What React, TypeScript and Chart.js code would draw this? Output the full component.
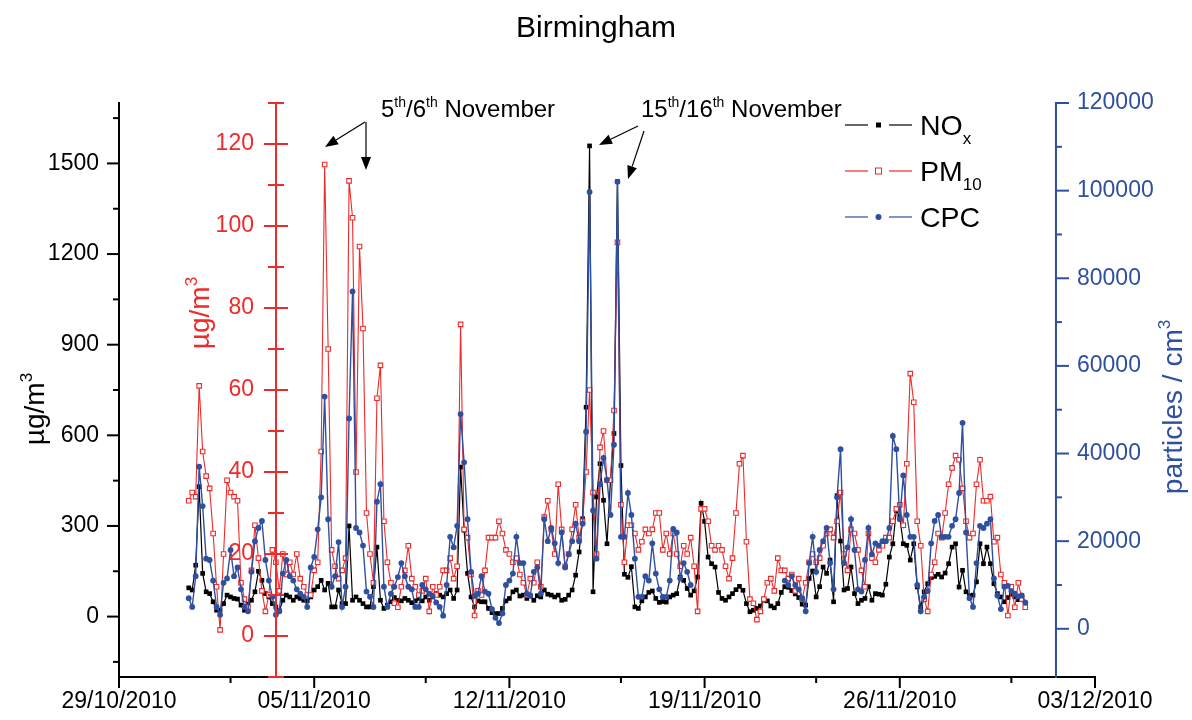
import React, { useEffect, useRef } from 'react';
import { Chart, registerables } from 'chart.js';

Chart.register(...registerables);

// ---------------- data ----------------
const TITLE = 'Birmingham';
// samples are 3-hourly, first one at 31/10/2010 12:00 (day 2.5 after 29/10/2010 00:00)
const START_DAY = 2.5;
const STEP_DAY = 0.125;

// NOx, µg/m3 (left black axis)
const NOX = [
  95, 88, 170, 430, 143, 82, 76, 49, 21, 21,
  43, 71, 65, 60, 58, 38, 21, 41, 54, 82,
  150, 120, 76, 65, 43, 32, 19, 54, 71, 65,
  54, 65, 60, 54, 52, 65, 88, 99, 120, 88,
  110,
  32, 32, 88, 43, 43, 300, 54, 65, 54, 43,
  32, 32, 99, 230, 54, 27, 38, 49, 63, 54,
  52, 60, 54, 46, 52, 60, 52, 65, 54, 65,
  76, 71, 65, 76, 88, 60, 88, 495, 286, 143,
  65, 32, 52, 49, 49, 27, 13, 10, 10, 27,
  52, 60, 82, 88, 68, 71, 60, 68, 54, 69,
  65, 88, 74, 71, 65, 71, 54, 57, 71, 88,
  137, 214, 324, 693, 1558, 82, 396, 506, 385, 241,
  450, 606, 1440, 500, 140, 130, 165, 32, 27, 52,
  65, 80, 85, 60, 47, 50, 48, 65, 71, 76,
  131, 120, 93, 71, 85, 131, 375, 315, 197, 175,
  164, 80, 60, 54, 65, 76, 89, 100, 87, 43,
  16, 21, 27, 35, 54, 52, 35, 29, 43, 80,
  99, 97, 86, 75, 63, 41, 38, 126, 151, 65,
  99, 164, 143, 187, 49, 400, 250, 88, 93, 164,
  76, 43, 54, 60, 99, 54, 76, 74, 71, 107,
  197, 241, 351, 329, 241, 236, 187, 241, 98, 32,
  82, 109, 129, 133, 140, 131, 144, 175, 230, 241,
  98, 153, 82, 69, 71, 115, 241, 175, 230, 175,
  109, 76, 65, 49, 63, 74, 65, 56, 56, 43,
];

// PM10, µg/m3 (red axis)
const PM10 = [
  33, 35, 34, 61, 45, 39, 36, 25, 12, 1.5,
  20, 38, 35, 34, 33, 13, 9, 7, 16, 27,
  19, 11, 6, 10, 21, 18, 11, 20, 15, 18,
  15, 20, 14, 12, 10, 10, 16, 18, 45, 115,
  70,
  21, 17, 14, 16, 19, 111, 102, 40, 95, 75,
  30, 20, 13, 58, 66, 28, 18, 13, 8, 7,
  12, 16, 22, 14, 12, 10, 11, 14, 6, 12,
  10, 12, 16, 16, 19, 14, 17, 76, 26, 24,
  15, 5, 11, 10, 16, 24, 24, 24, 28, 25,
  21, 20, 18, 19, 15, 13, 10, 14, 13, 18,
  12, 29, 33, 26, 20, 37, 26, 17, 20, 26,
  32, 24, 28, 40, 60, 35, 20, 46, 50, 38,
  38, 55, 96, 32, 18, 27, 27, 25, 21, 23,
  26, 25, 26, 30, 30, 21, 25, 20, 25, 20,
  17, 22, 20, 24, 17, 6, 31, 31, 28, 22,
  21, 22, 21, 17, 14, 19, 30, 42, 44, 23,
  9, 8, 4, 6, 9, 13, 14, 11, 19, 16,
  16, 14, 15, 11, 14, 9, 13, 18, 20, 18,
  19, 22, 25, 26, 24, 28, 35, 20, 16, 26,
  25, 21, 16, 12, 25, 19, 18, 21, 22, 24,
  24, 28, 31, 32, 27, 42, 64, 57, 28, 22,
  9, 6, 15, 18, 25, 24, 30, 37, 41, 44,
  43, 36, 28, 24, 25, 37, 43, 33, 33, 34,
  23, 24, 15, 13, 5, 12, 7, 13, 9, 7,
];

// CPC, thousands of particles / cm3 (blue axis); null = no data
const CPC_THOUSANDS = [
  7, 5, 12, 37, 28, 16, 15.7, 11, 5, 3.2,
  10.5, 11.5, 18, 12, 14, 9, 5, 4, 13, 20,
  23, 24.6, 15.7, 11, 7.3, 3.2, 4, 12.6, 15.7, 12,
  11, 9, 8, 7.3, 5, 14, 16.4, 22.7, 30, 53,
  25,
  9.6, 12, 19.8, 5, 9.6, 48, 77, 23, 22, 19,
  8.5, 7.3, 5, 29, 33, 9.6, 5, 8, 9.6, 11.8,
  15, 12, 9.6, 9, 5, 5, 10, 9, 8, 7.5,
  6, 5, 3, 10, 21, 18.6, 23.5, 49, 38, 25,
  13, 7.5, 8, 12, 8.5, 8, 4.5, 2.5, 1.3, 3.5,
  10, 11, 12.6, 21, 15, 15, 8, 7.6, 13, 14,
  8, 25, 20, 23, 19.5, 15, 22, 14, 17, 20,
  24, 20, 24, 45, 99.7, 27, 16, 33, 39, 34,
  26, 42, 102, 21, 21, 31, 26, 16, 7.3, 7.3,
  12, 11, 19.5, 12.6, 9, 7.3, 7.3, 11, 22.8, 22,
  11.5, 15, 13, 10, null, null, null, null, null, null,
  null, null, null, null, null, null, null, null, null, null,
  null, null, null, null, null, null, null, null, null, null,
  11, 10, 12, 10, 9, 7, 4, 15, 21, 13,
  18, 20, 23, 15, 9, 30, 41, 15, 18.6, 25,
  18, 9, 8.5, 15.7, 23, 17, 19.5, 19, 20, 20,
  23, 44, 41, 25, 35, 26, 21, 21, 10, 4,
  7.3, 8.6, 19.5, 24.6, 26, 21, 21, 21, 23.5, 25,
  31, 47, 22, 7, 5, 15, 23.5, 23, 24, 25,
  11.5, 7.6, 4.5, 9.6, 9.8, 8.6, 8, 7.4, 7.6, 6,
];

const X_TICK_DAYS = [0, 7, 14, 21, 28, 35];
const X_TICK_LABELS = ['29/10/2010', '05/11/2010', '12/11/2010', '19/11/2010', '26/11/2010', '03/12/2010'];
const X_MINOR_DAYS = [4, 11, 18, 25, 32];
const NOX_TICKS = [0, 300, 600, 900, 1200, 1500];
const NOX_MINOR = [-150, 150, 450, 750, 1050, 1350, 1650];
const PM_TICKS = [0, 20, 40, 60, 80, 100, 120];
const PM_MINOR = [-10, 10, 30, 50, 70, 90, 110, 130];
const CPC_TICKS = [0, 20000, 40000, 60000, 80000, 100000, 120000];
const CPC_MINOR = [10000, 30000, 50000, 70000, 90000, 110000];

// ---------------- style ----------------
const FONT = '"Liberation Sans", Arial, Helvetica, sans-serif';
const BLACK = '#000000';
const RED = '#ee2a2a';
const BLUE = '#2f4f9f';
const RED_AXIS_DAY = 5.63;
const BLUE_AXIS_DAY = 33.6;

type Part = { t: string; s?: 'sup' | 'sub' };

function seg(ctx: CanvasRenderingContext2D, x1: number, y1: number, x2: number, y2: number) {
  ctx.beginPath();
  ctx.moveTo(x1, y1);
  ctx.lineTo(x2, y2);
  ctx.stroke();
}

function drawRich(
  ctx: CanvasRenderingContext2D,
  parts: Part[],
  x: number,
  y: number,
  size: number,
  color: string,
  align: 'left' | 'center',
  rot = 0,
  subScale = 0.62
) {
  ctx.save();
  ctx.translate(x, y);
  ctx.rotate(rot);
  ctx.fillStyle = color;
  ctx.textAlign = 'left';
  ctx.textBaseline = 'alphabetic';
  const fontFor = (p: Part) => `${p.s ? Math.round(size * subScale) : size}px ${FONT}`;
  let total = 0;
  for (const p of parts) {
    ctx.font = fontFor(p);
    total += ctx.measureText(p.t).width;
  }
  let cx = align === 'center' ? -total / 2 : 0;
  const base = size * 0.36;
  for (const p of parts) {
    ctx.font = fontFor(p);
    const dy = p.s === 'sup' ? -size * 0.42 : p.s === 'sub' ? size * 0.3 : 0;
    ctx.fillText(p.t, cx, base + dy);
    cx += ctx.measureText(p.t).width;
  }
  ctx.restore();
}

function arrow(ctx: CanvasRenderingContext2D, x1: number, y1: number, x2: number, y2: number) {
  const a = Math.atan2(y2 - y1, x2 - x1);
  const L = 13;
  const W = 5;
  const bx = x2 - L * Math.cos(a);
  const by = y2 - L * Math.sin(a);
  ctx.lineWidth = 1.2;
  seg(ctx, x1, y1, bx, by);
  ctx.beginPath();
  ctx.moveTo(x2, y2);
  ctx.lineTo(bx + W * Math.sin(a), by - W * Math.cos(a));
  ctx.lineTo(bx - W * Math.sin(a), by + W * Math.cos(a));
  ctx.closePath();
  ctx.fill();
}

const decorPlugin = {
  id: 'decor',
  afterDraw(chart: any) {
    const ctx = chart.ctx as CanvasRenderingContext2D;
    const { top, bottom } = chart.chartArea;
    const sx = chart.scales.x;
    const sN = chart.scales.yN;
    const sP = chart.scales.yP;
    const sC = chart.scales.yC;
    const xL = sx.getPixelForValue(0);
    const xR = sx.getPixelForValue(35);
    const xRed = sx.getPixelForValue(RED_AXIS_DAY);
    const xBlue = sx.getPixelForValue(BLUE_AXIS_DAY);

    ctx.save();
    ctx.lineCap = 'butt';
    ctx.lineWidth = 2;

    // title
    ctx.fillStyle = BLACK;
    ctx.font = `30px ${FONT}`;
    ctx.textAlign = 'center';
    ctx.textBaseline = 'middle';
    ctx.fillText(TITLE, 596, 29);

    // x axis
    ctx.strokeStyle = BLACK;
    seg(ctx, xL - 1, bottom, xR + 1, bottom);
    X_TICK_DAYS.forEach((d) => {
      const p = sx.getPixelForValue(d);
      seg(ctx, p, bottom, p, bottom + 11);
    });
    X_MINOR_DAYS.forEach((d) => {
      const p = sx.getPixelForValue(d);
      seg(ctx, p, bottom, p, bottom + 6);
    });
    ctx.font = `23px ${FONT}`;
    ctx.textAlign = 'center';
    ctx.textBaseline = 'middle';
    X_TICK_DAYS.forEach((d, i) => ctx.fillText(X_TICK_LABELS[i], sx.getPixelForValue(d), bottom + 25));

    // left NOx axis
    seg(ctx, xL, top - 1, xL, bottom + 1);
    NOX_TICKS.forEach((v) => {
      const p = sN.getPixelForValue(v);
      seg(ctx, xL - 12, p, xL, p);
    });
    NOX_MINOR.forEach((v) => {
      const p = sN.getPixelForValue(v);
      seg(ctx, xL - 6, p, xL, p);
    });
    ctx.textAlign = 'right';
    NOX_TICKS.forEach((v) => ctx.fillText(String(v), xL - 20, sN.getPixelForValue(v)));

    // red PM10 axis
    ctx.strokeStyle = RED;
    ctx.fillStyle = RED;
    seg(ctx, xRed, top - 1, xRed, bottom + 1);
    PM_TICKS.forEach((v) => {
      const p = sP.getPixelForValue(v);
      seg(ctx, xRed - 12, p, xRed + 12, p);
    });
    PM_MINOR.forEach((v) => {
      const p = sP.getPixelForValue(v);
      seg(ctx, xRed - 8, p, xRed + 8, p);
    });
    ctx.textAlign = 'right';
    PM_TICKS.forEach((v) => ctx.fillText(String(v), xRed - 22, sP.getPixelForValue(v)));

    // blue CPC axis
    ctx.strokeStyle = BLUE;
    ctx.fillStyle = BLUE;
    seg(ctx, xBlue, top - 1, xBlue, bottom + 1);
    CPC_TICKS.forEach((v) => {
      const p = sC.getPixelForValue(v);
      seg(ctx, xBlue, p, xBlue + 13, p);
    });
    CPC_MINOR.forEach((v) => {
      const p = sC.getPixelForValue(v);
      seg(ctx, xBlue, p, xBlue + 6, p);
    });
    ctx.textAlign = 'left';
    CPC_TICKS.forEach((v) => ctx.fillText(String(v), xBlue + 21, sC.getPixelForValue(v)));

    // axis titles
    const ugm: Part[] = [{ t: 'µg/m' }, { t: '3', s: 'sup' }];
    drawRich(ctx, ugm, 34, 409, 28, BLACK, 'center', -Math.PI / 2);
    drawRich(ctx, ugm, 199, 313, 28, RED, 'center', -Math.PI / 2);
    drawRich(ctx, [{ t: 'particles / cm' }, { t: '3', s: 'sup' }], 1172, 407, 28, BLUE, 'center', -Math.PI / 2);

    // legend
    const rows = [
      { y: 125, color: BLACK, kind: 'sq', parts: [{ t: 'NO' }, { t: 'x', s: 'sub' }] as Part[] },
      { y: 171, color: RED, kind: 'open', parts: [{ t: 'PM' }, { t: '10', s: 'sub' }] as Part[] },
      { y: 217, color: BLUE, kind: 'dot', parts: [{ t: 'CPC' }] as Part[] },
    ];
    rows.forEach((r) => {
      ctx.strokeStyle = r.color;
      ctx.fillStyle = r.color;
      ctx.lineWidth = 1.2;
      seg(ctx, 845, r.y, 868, r.y);
      seg(ctx, 889, r.y, 912, r.y);
      if (r.kind === 'sq') {
        ctx.fillRect(876, r.y - 2.5, 5, 5);
      } else if (r.kind === 'open') {
        ctx.fillStyle = '#ffffff';
        ctx.fillRect(875.5, r.y - 3, 6, 6);
        ctx.lineWidth = 1;
        ctx.strokeRect(875.5, r.y - 3, 6, 6);
      } else {
        ctx.beginPath();
        ctx.arc(878.5, r.y, 3, 0, Math.PI * 2);
        ctx.fill();
      }
      drawRich(ctx, r.parts, 920, r.y, 28.5, BLACK, 'left', 0, 0.6);
    });

    // annotations
    ctx.strokeStyle = BLACK;
    ctx.fillStyle = BLACK;
    drawRich(
      ctx,
      [{ t: '5' }, { t: 'th', s: 'sup' }, { t: '/6' }, { t: 'th', s: 'sup' }, { t: ' November' }],
      381, 108, 24, BLACK, 'left', 0, 0.6
    );
    drawRich(
      ctx,
      [{ t: '15' }, { t: 'th', s: 'sup' }, { t: '/16' }, { t: 'th', s: 'sup' }, { t: ' November' }],
      641, 108, 24, BLACK, 'left', 0, 0.6
    );
    arrow(ctx, 365, 122, 325, 147);
    arrow(ctx, 366, 122, 366, 170);
    arrow(ctx, 638, 126, 599, 145);
    arrow(ctx, 644, 131, 628, 179);

    ctx.restore();
  },
};

export default function App() {
  const ref = useRef<HTMLCanvasElement>(null);

  useEffect(() => {
    const canvas = ref.current;
    if (!canvas) return;
    const days = NOX.map((_, i) => START_DAY + i * STEP_DAY);
    const chart = new Chart(canvas, {
      type: 'line',
      data: {
        datasets: [
          {
            label: 'NOx',
            data: NOX.map((v, i) => ({ x: days[i], y: v })),
            yAxisID: 'yN',
            borderColor: BLACK,
            borderWidth: 1.2,
            pointStyle: 'rect',
            pointRadius: 3.3,
            pointBackgroundColor: BLACK,
            pointBorderColor: BLACK,
            pointBorderWidth: 0,
            order: 3,
          },
          {
            label: 'PM10',
            data: PM10.map((v, i) => ({ x: days[i], y: v })),
            yAxisID: 'yP',
            borderColor: RED,
            borderWidth: 1.1,
            pointStyle: 'rect',
            pointRadius: 3.2,
            pointBackgroundColor: '#ffffff',
            pointBorderColor: RED,
            pointBorderWidth: 1.1,
            order: 2,
          },
          {
            label: 'CPC',
            data: CPC_THOUSANDS.map((v, i) => ({ x: days[i], y: v == null ? null : v * 1000 })),
            yAxisID: 'yC',
            borderColor: BLUE,
            borderWidth: 1.4,
            pointStyle: 'circle',
            pointRadius: 2.9,
            pointBackgroundColor: BLUE,
            pointBorderColor: BLUE,
            pointBorderWidth: 0,
            spanGaps: false,
            order: 1,
          },
        ] as any,
      },
      options: {
        animation: false,
        responsive: false,
        devicePixelRatio: 1,
        events: [],
        layout: { padding: { left: 119, right: 97, top: 103, bottom: 43 } },
        plugins: { legend: { display: false }, title: { display: false }, tooltip: { enabled: false } },
        elements: { line: { tension: 0 } },
        scales: {
          x: { type: 'linear', min: 0, max: 35, display: false },
          yN: { type: 'linear', min: -200, max: 1700, display: false },
          yP: { type: 'linear', min: -10, max: 130, display: false },
          yC: { type: 'linear', min: -11000, max: 120000, display: false },
        },
      } as any,
      plugins: [decorPlugin],
    });
    return () => chart.destroy();
  }, []);

  return (
    <div style={{ position: 'absolute', left: 0, top: 0, width: 1192, height: 720, background: '#ffffff' }}>
      <canvas ref={ref} width={1192} height={720} style={{ width: 1192, height: 720, display: 'block' }} />
    </div>
  );
}
